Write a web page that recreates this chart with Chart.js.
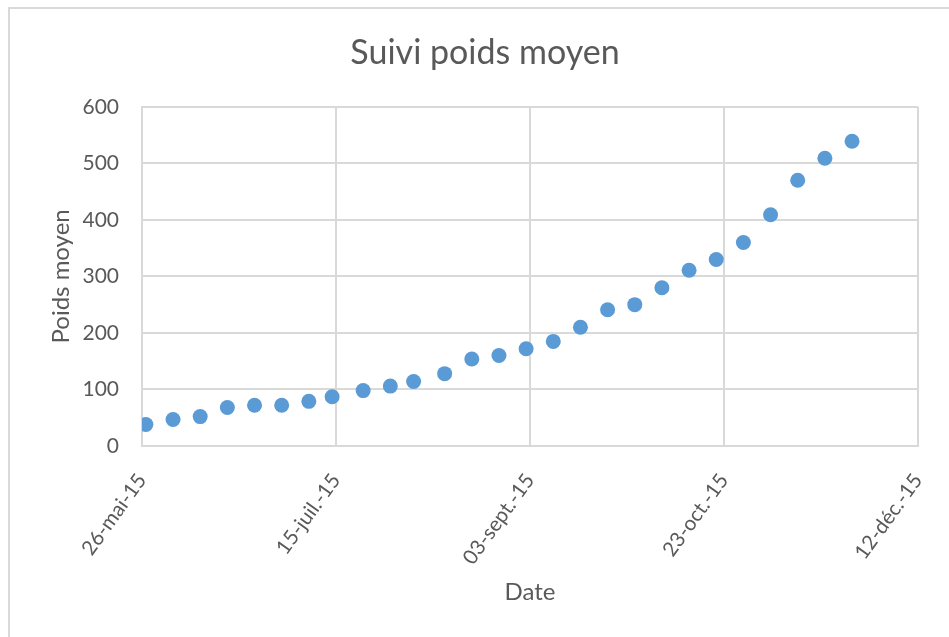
<!DOCTYPE html>
<html>
<head>
<meta charset="utf-8">
<script src="https://cdn.jsdelivr.net/npm/chart.js@4"></script>
<style>
    html, body { margin: 0; padding: 0; background: #ffffff; }
    #wrap { position: relative; width: 949px; height: 637px; overflow: hidden; }
    #frame { position: absolute; left: 8px; top: 7px; width: 960px; height: 660px; border: 2px solid #d9d9d9; box-sizing: border-box; }
    canvas { position: absolute; left: 0; top: 0; }
</style>
</head>
<body>
<div id="wrap">
    <div id="frame"></div>
    <canvas id="chartPoids" width="949" height="637"></canvas>
</div>
<script>
// Dates des pesées
const dates = ['2015-05-27', '2015-06-03', '2015-06-10', '2015-06-17', '2015-06-24', '2015-07-01',
    '2015-07-08', '2015-07-14', '2015-07-22', '2015-07-29', '2015-08-04', '2015-08-12',
    '2015-08-19', '2015-08-26', '2015-09-02', '2015-09-09', '2015-09-16', '2015-09-23',
    '2015-09-30', '2015-10-07', '2015-10-14', '2015-10-21', '2015-10-28', '2015-11-04',
    '2015-11-11', '2015-11-18', '2015-11-25'];
const poids = [38, 47, 52, 68, 72, 72, 79, 87, 98, 106, 114, 128,
    154, 160, 172, 185, 210, 241, 250, 280, 311, 330, 360, 409,
    470, 509, 539];

// Graduations de l'axe des dates (tous les 50 jours)
const tickDates = ['2015-05-26', '2015-07-15', '2015-09-03', '2015-10-23', '2015-12-12'];
const tickLabels = ['26-mai-15', '15-juil.-15', '03-sept.-15', '23-oct.-15', '12-déc.-15'];

const JOUR = 24 * 3600 * 1000;
const t0 = Date.parse(tickDates[0]);
const toDay = d => Math.round((Date.parse(d) - t0) / JOUR);
const tickDays = tickDates.map(toDay);

const points = dates.map((d, i) => ({ x: toDay(d), y: poids[i] }));

const gris = '#d9d9d9';
const texte = '#595959';
const police = 'Lato, "Open Sans", sans-serif';

new Chart(document.getElementById('chartPoids').getContext('2d'), {
    type: 'scatter',
    data: {
        datasets: [{
            label: 'Poids moyen',
            data: points,
            backgroundColor: '#5b9bd5',
            borderColor: '#5b9bd5',
            pointRadius: 7.5,
            pointHoverRadius: 7.5,
            borderWidth: 0
        }]
    },
    options: {
        responsive: false,
        animation: false,
        layout: { padding: { left: 21, right: 0, top: 9, bottom: 0 } },
        plugins: {
            legend: { display: false },
            tooltip: { enabled: false },
            title: {
                display: true,
                text: 'Suivi poids moyen',
                color: texte,
                font: { family: police, size: 34, weight: 'normal' },
                padding: { top: 24, bottom: 33 }
            }
        },
        scales: {
            x: {
                type: 'linear',
                min: tickDays[0],
                max: tickDays[tickDays.length - 1],
                afterBuildTicks: s => { s.ticks = tickDays.map(v => ({ value: v })); },
                afterFit: s => {
                    s.height = 191;
                    s.paddingLeft = 0;
                    s.paddingRight = 31; // marge droite de la zone de tracé
                },
                ticks: {
                    color: texte,
                    font: { family: police, size: 20.5 },
                    minRotation: 54,
                    maxRotation: 54,
                    padding: 23,
                    autoSkip: false,
                    callback: (v) => tickLabels[tickDays.indexOf(v)]
                },
                grid: { color: gris, lineWidth: 2, drawTicks: false },
                border: { color: gris, width: 2 },
                title: {
                    display: true,
                    text: 'Date',
                    color: texte,
                    font: { family: police, size: 24 },
                    padding: { top: 4, bottom: 30 }
                }
            },
            y: {
                min: 0,
                max: 600,
                afterFit: s => { s.width = 121; },
                ticks: {
                    stepSize: 100,
                    color: texte,
                    font: { family: police, size: 21 },
                    padding: 23
                },
                grid: { color: gris, lineWidth: 2, drawTicks: false },
                border: { color: gris, width: 2 },
                title: {
                    display: true,
                    text: 'Poids moyen',
                    color: texte,
                    font: { family: police, size: 24 },
                    padding: { top: 26, bottom: 6 }
                }
            }
        }
    }
});
</script>
</body>
</html>
